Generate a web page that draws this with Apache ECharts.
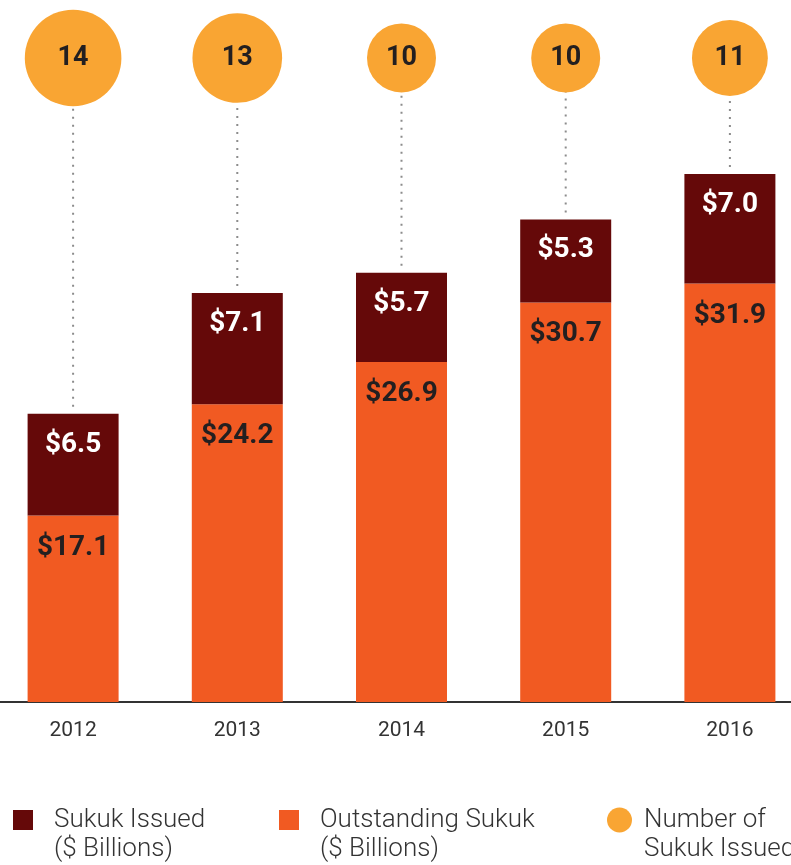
<!DOCTYPE html>
<html>
<head>
<meta charset="utf-8">
<style>
  html, body { margin: 0; padding: 0; background: #fff; }
  #sukukChart { width: 791px; height: 865px; }
</style>
<script src="https://cdn.jsdelivr.net/npm/echarts@6/dist/echarts.min.js"></script>
</head>
<body>
<div id="sukukChart"></div>
<script>
  const years = ['2012', '2013', '2014', '2015', '2016'];
  const outstanding = [17.1, 24.2, 26.9, 30.7, 31.9];
  const issued = [6.5, 7.1, 5.7, 5.3, 7.0];
  const issueCount = [14, 13, 10, 10, 11];

  const COUNT_ROW = 46.3; // height where the bubbles sit on the value axis
  const FONT = 'Roboto, "Noto Sans", sans-serif';

  const chart = echarts.init(document.getElementById('sukukChart'));

  function makeLegend(name, label, left, icon, size, gap) {
    return {
      data: [name], left: left, top: 804, padding: 0,
      icon: icon, itemWidth: size, itemHeight: size,
      formatter: () => label,
      textStyle: {
        fontFamily: FONT, fontSize: 26, fontWeight: 300, color: '#333',
        lineHeight: 32, padding: [0, 0, 0, gap]
      }
    };
  }
  // second line of each legend entry
  function subLine(text, left) {
    return {
      type: 'text', left: left, top: 836,
      style: { text: text, font: '300 26px ' + FONT, fill: '#333' }
    };
  }

  const option = {
    animation: false,
    grid: { left: -9, right: -21, top: 0, bottom: 163, outerBoundsMode: 'none' },
    legend: [
      makeLegend('Sukuk Issued', 'Sukuk Issued', 13, 'rect', 20, 16),
      makeLegend('Outstanding Sukuk', 'Outstanding Sukuk', 279, 'rect', 20, 16),
      makeLegend('Number of Sukuk Issued', 'Number of', 607, 'circle', 25, 7)
    ],
    graphic: [
      subLine('($ Billions)', 54),
      subLine('($ Billions)', 320),
      subLine('Sukuk Issued', 644)
    ],
    xAxis: {
      type: 'category',
      data: years,
      axisTick: { show: false },
      axisLine: { lineStyle: { color: '#333', width: 2 } },
      axisLabel: { margin: 18, fontFamily: FONT, fontSize: 21, color: '#333' }
    },
    yAxis: {
      type: 'value', min: 5.2, max: 50, show: false, splitLine: { show: false }
    },
    series: [
      {
        name: 'Outstanding Sukuk',
        type: 'bar', stack: 'sukuk', barWidth: 91,
        data: outstanding,
        itemStyle: { color: '#f15a22' },
        label: {
          show: true, position: 'insideTop', distance: 18,
          formatter: p => '$' + p.value.toFixed(1),
          fontFamily: FONT, fontSize: 28, fontWeight: 'bold', color: '#231f20'
        }
      },
      {
        name: 'Sukuk Issued',
        type: 'bar', stack: 'sukuk', barWidth: 91,
        data: issued,
        itemStyle: { color: '#650909' },
        label: {
          show: true, position: 'insideTop', distance: 17,
          formatter: p => '$' + p.value.toFixed(1),
          fontFamily: FONT, fontSize: 28, fontWeight: 'bold', color: '#fff'
        }
      },
      {
        type: 'custom',
        z: 1,
        data: years.map((y, i) => [i, outstanding[i] + issued[i], COUNT_ROW]),
        renderItem: function (params, api) {
          const p1 = api.coord([api.value(0), api.value(1)]);
          const p2 = api.coord([api.value(0), api.value(2)]);
          return {
            type: 'line',
            shape: { x1: p1[0], y1: p1[1] - 7, x2: p2[0], y2: p2[1] },
            style: { stroke: '#8c8c8c', lineWidth: 2, lineDash: [2, 6] }
          };
        }
      },
      {
        name: 'Number of Sukuk Issued',
        type: 'scatter',
        z: 5,
        data: years.map((y, i) => [i, COUNT_ROW, issueCount[i]]),
        symbolSize: v => v[2] * 6.9,
        itemStyle: { color: '#f9a533', opacity: 1 },
        label: {
          show: true, position: 'inside',
          formatter: p => p.value[2],
          fontFamily: FONT, fontSize: 27, fontWeight: 'bold', color: '#231f20'
        }
      }
    ]
  };
  chart.setOption(option);
</script>
</body>
</html>
